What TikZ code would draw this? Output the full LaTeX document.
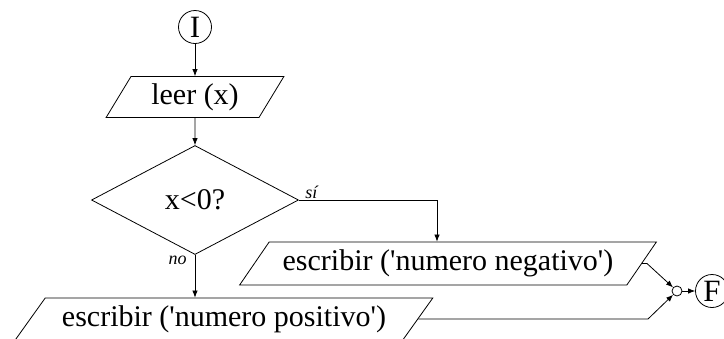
\documentclass[tikz,border=0pt]{standalone}
\usepackage{fontspec}
\setmainfont{Liberation Serif}
\usetikzlibrary{shapes.geometric,arrows.meta}
\begin{document}
\begin{tikzpicture}[x=1pt,y=-1pt,
  line width=0.8pt,
  every node/.style={font=\fontsize{30}{32}\selectfont},
  io/.style={draw, trapezium, trapezium left angle=45, trapezium right angle=135, trapezium stretches=true, inner sep=0pt},
  term/.style={draw, circle, minimum size=33pt, inner sep=0pt, font=\fontsize{31}{33}\selectfont},
  dec/.style={draw, diamond, inner sep=0pt},
  lbl/.style={font=\fontsize{18}{20}\selectfont\itshape, inner sep=1pt},
  arr/.style={-{Latex[length=7pt,width=5.5pt]}}
]
\useasboundingbox (0,0) rectangle (724,338);
\node[term] (I) at (195,27) {I};
\node[io, minimum width=178pt, minimum height=41pt, trapezium left angle=58, trapezium right angle=122] (leer) at (195,97) {leer (x)};
\node[dec, minimum width=207pt, minimum height=109pt] (d) at (195,200) {x<0?};
\node[io, minimum width=417pt, minimum height=43pt] (neg) at (448,263.5) {escribir (\textquotesingle numero negativo\textquotesingle)};
\node[io, minimum width=418pt, minimum height=42pt] (pos) at (224,319) {escribir (\textquotesingle numero positivo\textquotesingle)};
\node[draw, circle, minimum size=10pt, inner sep=0pt] (j) at (677,291) {};
\node[term] (F) at (712,291) {F};
\coordinate (sdn) at (437,200);
\coordinate (nb) at (647,263.5);
\coordinate (pb) at (648,319);
\draw[arr] (I) -- (leer);
\draw[arr] (leer) -- (d);
\draw[arr] (d.east) -- (sdn) -- (sdn |- neg.north);
\draw[arr] (d.south) -- (d.south |- pos.north);
\draw[arr] (neg.east) -- (nb) -- (j);
\draw[arr] (pos.east) -- (pb) -- (j);
\draw[arr] (j) -- (F);
\node[lbl, anchor=south west, xshift=5pt] (si) at (d.east) {sí};
\node[lbl, anchor=north east, xshift=-7pt] (no) at (d.south) {no};
\end{tikzpicture}
\end{document}
